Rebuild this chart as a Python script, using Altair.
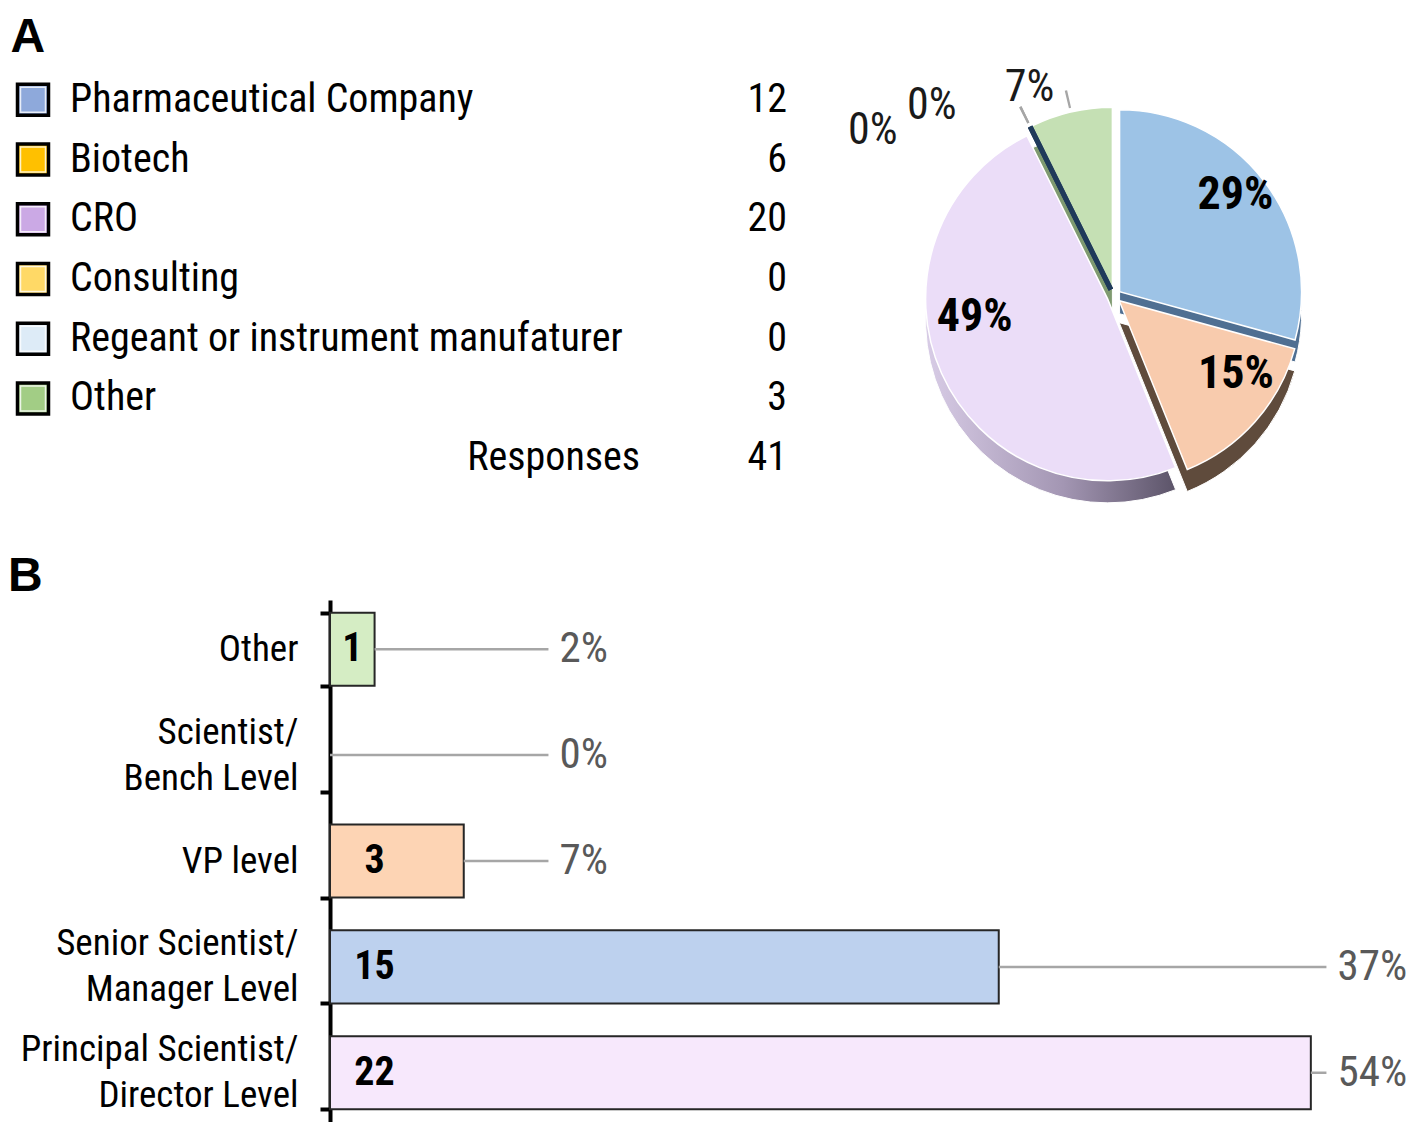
import altair as alt
import pandas as pd

FONT = "Liberation Sans Narrow, Arial Narrow, Roboto Condensed, DejaVu Sans Condensed, sans-serif"
BOLDFONT = "Liberation Sans, Arial, sans-serif"

# ---------------- Panel A data ----------------
sectors = ["Pharmaceutical Company", "Biotech", "CRO", "Consulting",
           "Regeant or instrument manufaturer", "Other"]
sector_counts = [12, 6, 20, 0, 0, 3]
sector_pcts = ["29%", "15%", "49%", "0%", "0%", "7%"]
legend_colors = ["#8EA9DB", "#FFC000", "#CBA9E5", "#FFD966", "#DDEBF7", "#A2CD85"]
pie_colors = ["#9DC3E6", "#F8CBAD", "#EBDDF8", "#FFD966", "#1F3A5A", "#C5E0B4"]
pie_side_colors = ["#4F6F92", "#5F4B3C", "#A396B3", "#8C7A30", "#1F3A5A", "#7F9A70"]
total_label = "Responses"
total_count = 41

# ---------------- Panel B data ----------------
levels = ["Other", "Scientist/Bench Level", "VP level",
          "Senior Scientist/Manager Level", "Principal Scientist/Director Level"]
level_counts = [1, 0, 3, 15, 22]
level_pcts = ["2%", "0%", "7%", "37%", "54%"]
level_colors = ["#D5EDC4", "#FFFFFF", "#FDD4B4", "#BDD1EE", "#F7E8FC"]

# Both rows share the same plot origin (aligned by the concat layout); the
# bar chart's y-axis takes AXIS_W pixels on the left, so the legend table is
# drawn in that left margin as well.
AXIS_W = 322
TX = -AXIS_W - 3   # left edge of the legend table relative to the plot origin

# ---------------- Panel A: legend table ----------------
table_df = pd.DataFrame({
    "row": list(range(len(sectors))),
    "name": sectors,
    "count": sector_counts,
    "swatch": legend_colors,
})
total_df = pd.DataFrame({"row": [len(sectors)], "name": [total_label], "count": [total_count]})

TOP_H = 430
row_y = alt.Y("row:O", scale=alt.Scale(domain=list(range(len(sectors) + 1)), range=[8, 426]), axis=None)

swatch = alt.Chart(table_df).mark_square(size=31 * 31, opacity=1, stroke="black", strokeWidth=3.5).encode(
    x=alt.value(TX + 28), y=row_y, fill=alt.Fill("swatch:N", scale=None))
swatch_inner = alt.Chart(table_df).mark_square(size=25 * 25, filled=False, opacity=1,
                                               stroke="white", strokeWidth=1.5, strokeOpacity=0.8).encode(
    x=alt.value(TX + 28), y=row_y)
txt = dict(baseline="middle", font=FONT, fontSize=40, color="black")
names = alt.Chart(table_df).mark_text(align="left", **txt).encode(
    x=alt.value(TX + 65), y=row_y, text="name:N")
counts = alt.Chart(table_df).mark_text(align="right", **txt).encode(
    x=alt.value(TX + 782), y=row_y, text="count:Q")
tot_name = alt.Chart(total_df).mark_text(align="right", **txt).encode(
    x=alt.value(TX + 635), y=row_y, text="name:N")
tot_count = alt.Chart(total_df).mark_text(align="right", **txt).encode(
    x=alt.value(TX + 782), y=row_y, text="count:Q")

table = alt.layer(swatch, swatch_inner, names, counts, tot_name, tot_count).properties(
    width=820 - AXIS_W, height=TOP_H)

# ---------------- Panel A: pie ----------------
pie_df = pd.DataFrame({
    "idx": list(range(len(sectors))),
    "name": sectors,
    "count": sector_counts,
    "pct": sector_pcts,
    "top": pie_colors,
    "side": pie_side_colors,
})
CX, CY, R, E, DEPTH = 286, 234, 182, 7, 22

pie_base = alt.Chart(pie_df).transform_window(
    cum="sum(count)", sort=[alt.SortField("idx")], frame=[None, 0]
).transform_joinaggregate(tot="sum(count)").transform_calculate(
    a0="(datum.cum - datum.count) / datum.tot * 2 * PI",
    a1="datum.cum / datum.tot * 2 * PI",
).transform_calculate(
    mid="(datum.a0 + datum.a1) / 2",
).transform_calculate(
    px=f"{CX} + {E} * sin(datum.mid)",
    py=f"{CY} - {E} * cos(datum.mid)",
    pys=f"{CY + DEPTH} - {E} * cos(datum.mid)",
    lx=f"{CX} + ({E} + {R} * 0.8) * sin(datum.mid)",
    ly=f"{CY} - ({E} + {R} * 0.62) * cos(datum.mid)",
    ox=f"{CX} + ({R} + 35) * sin(datum.mid)",
    oy=f"{CY} - ({R} + 35) * cos(datum.mid)",
)

th = alt.Theta("a0:Q", scale=None)
th2 = alt.Theta2("a1:Q")
pxy = dict(x=alt.X("px:Q", scale=None, axis=None), y=alt.Y("py:Q", scale=None, axis=None))
pxy_side = dict(x=alt.X("px:Q", scale=None, axis=None), y=alt.Y("pys:Q", scale=None, axis=None))

side = pie_base.transform_filter(f"datum.name != '{sectors[2]}'").mark_arc(
    outerRadius=R, stroke="white", strokeWidth=1).encode(
    theta=th, theta2=th2, fill=alt.Fill("side:N", scale=None), **pxy_side)
side_cro = pie_base.transform_filter(f"datum.name == '{sectors[2]}'").mark_arc(
    outerRadius=R, stroke="white", strokeWidth=1,
    fill=alt.Gradient(gradient="linear", x1=0, x2=1, y1=0, y2=0,
                      stops=[alt.GradientStop(color="#D8CCE6", offset=0),
                             alt.GradientStop(color="#A396B3", offset=0.55),
                             alt.GradientStop(color="#5C5469", offset=1)])).encode(
    theta=th, theta2=th2, **pxy_side)
top = pie_base.mark_arc(outerRadius=R, stroke="white", strokeWidth=1.5).encode(
    theta=th, theta2=th2, fill=alt.Fill("top:N", scale=None), **pxy)
zero_edge = pie_base.transform_filter("datum.count == 0").mark_arc(
    outerRadius=R, stroke="#1F3A5A", strokeWidth=5, fill="#1F3A5A").encode(
    theta=th, theta2=th2, **pxy)

in_style = dict(font=FONT, fontSize=46, fontWeight="bold", color="black", baseline="middle")
lxy = dict(x=alt.X("lx:Q", scale=None, axis=None), y=alt.Y("ly:Q", scale=None, axis=None), text="pct:N")
inside_big = pie_base.transform_filter("datum.count / datum.tot >= 0.25").mark_text(
    dy=-28, **in_style).encode(**lxy)
inside_mid = pie_base.transform_filter("datum.count / datum.tot >= 0.1 && datum.count / datum.tot < 0.25").mark_text(
    dx=8, dy=-2, **in_style).encode(**lxy)

out_style = dict(font=FONT, fontSize=44, color="#1A1A1A", baseline="middle", align="center")
oxy = dict(x=alt.X("ox:Q", scale=None, axis=None), y=alt.Y("oy:Q", scale=None, axis=None), text="pct:N")
out_other = pie_base.transform_filter(f"datum.name == '{sectors[5]}'").mark_text(
    dx=-35, dy=3, **out_style).encode(**oxy)
out_cons = pie_base.transform_filter(f"datum.name == '{sectors[3]}'").mark_text(
    dx=-86, dy=4, **out_style).encode(**oxy)
out_reg = pie_base.transform_filter(f"datum.name == '{sectors[4]}'").mark_text(
    dx=-145, dy=29, **out_style).encode(**oxy)
leader = pie_base.transform_filter("datum.count / datum.tot < 0.1").transform_calculate(
    l0="datum.mid - 0.006", l1="datum.mid + 0.006").mark_arc(
    innerRadius=R + 4, outerRadius=R + 22, fill="#A6A6A6").encode(
    theta=alt.Theta("l0:Q", scale=None), theta2="l1:Q", **pxy)

pie = alt.layer(side, side_cro, top, zero_edge, inside_big, inside_mid, leader,
                out_other, out_cons, out_reg).properties(width=580, height=TOP_H)

panel_a = alt.hconcat(table, pie, spacing=0).properties(
    title=alt.TitleParams("A", anchor="start", font=BOLDFONT, fontSize=48, fontWeight="bold",
                          color="black", offset=0))

# ---------------- Panel B: bars ----------------
bar_df = pd.DataFrame({"level": levels, "count": level_counts, "pct": level_pcts, "color": level_colors})

label_expr = ("indexof(datum.label, '/') > 0 ? "
              "[slice(datum.label, 0, indexof(datum.label, '/') + 1), "
              "slice(datum.label, indexof(datum.label, '/') + 1)] : datum.label")

yb = alt.Y("level:N", sort=levels, title=None,
           scale=alt.Scale(paddingInner=0.31, paddingOuter=0.12),
           axis=alt.Axis(labelFont=FONT, labelFontSize=37, labelColor="black", labelLineHeight=46,
                         labelExpr=label_expr, labelAlign="right", labelBaseline="middle",
                         labelOffset={"condition": {"test": "indexof(datum.label, '/') > 0", "value": -23},
                                      "value": 0},
                         labelPadding=22, tickBand="extent", tickSize=10, tickWidth=4,
                         tickColor="black", domainWidth=4, domainColor="black",
                         minExtent=AXIS_W, maxExtent=AXIS_W, labelLimit=400))
xb = alt.X("count:Q", scale=alt.Scale(domain=[0, 24], nice=False), axis=None)

bar_base = alt.Chart(bar_df).transform_calculate(
    inpos="min(datum.count / 2, 1)",
    pctpos="datum.count > 10 ? 22.6 : 5.15",
    rule_end="(datum.count > 10 ? 22.6 : 5.15) - 0.25",
)

bars = bar_base.transform_filter("datum.count > 0").mark_bar(stroke="#262626", strokeWidth=2).encode(
    x=xb, y=yb, fill=alt.Fill("color:N", scale=None))
leaders = bar_base.mark_rule(color="#A6A6A6", strokeWidth=2.5).encode(
    x="count:Q", x2="rule_end:Q", y=yb)
in_text = bar_base.transform_filter("datum.count > 0").mark_text(
    font=FONT, fontSize=40, fontWeight="bold", color="black", align="center", baseline="middle").encode(
    x="inpos:Q", y=yb, text="count:Q")
pct_text = bar_base.mark_text(font=FONT, fontSize=43, color="#595959", align="left", baseline="middle").encode(
    x="pctpos:Q", y=yb, text="pct:N")

panel_b = alt.layer(bars, leaders, in_text, pct_text).properties(
    width=1070, height=522,
    title=alt.TitleParams("B", anchor="start", font=BOLDFONT, fontSize=48, fontWeight="bold",
                          color="black", offset=-20))

chart = alt.vconcat(panel_a, panel_b, spacing=48).properties(
    padding={"left": 0, "top": 6, "right": 0, "bottom": 0}
).configure_view(stroke=None)

chart.save("out.html", embed_options={"renderer": "svg", "actions": False})
